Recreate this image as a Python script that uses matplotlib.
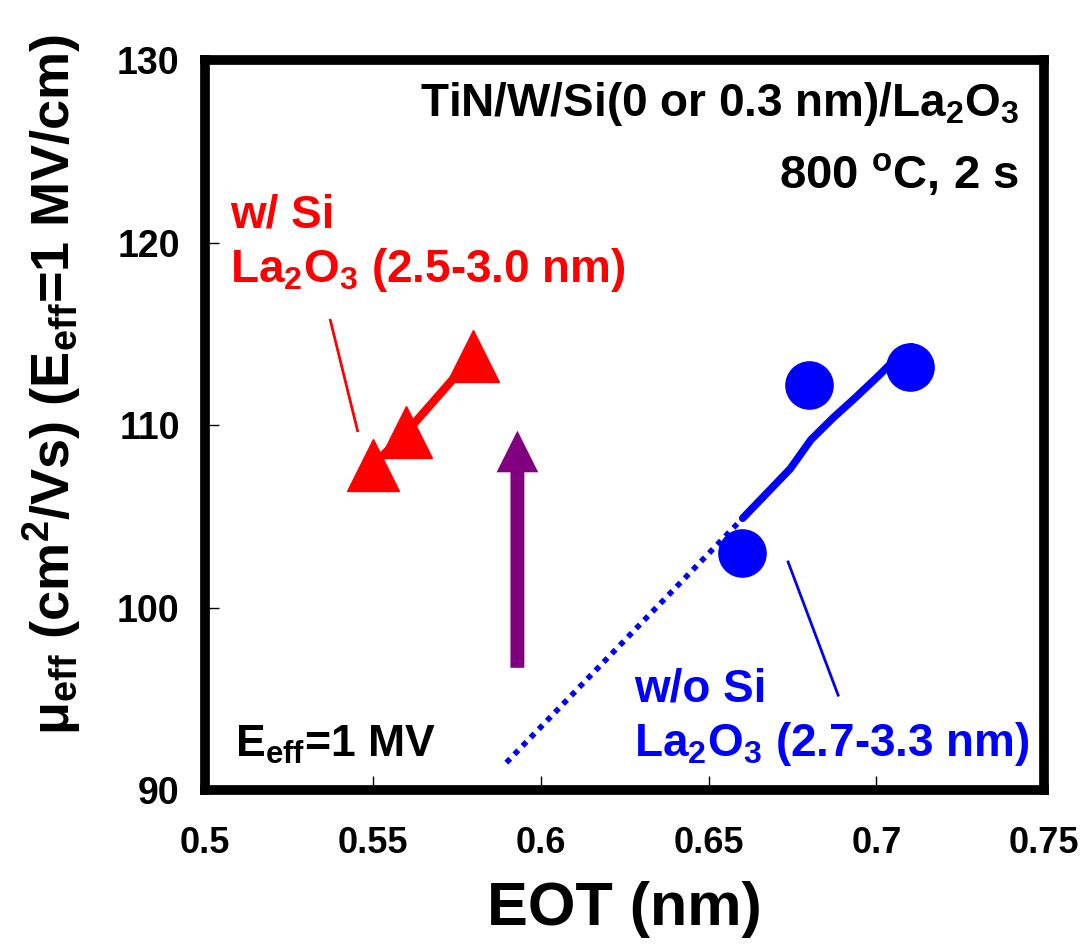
import matplotlib
matplotlib.use('Agg')
import matplotlib.pyplot as plt

# ---------------- data ----------------
eot_si = [0.55, 0.56, 0.58]
mu_si = [107.8, 109.6, 113.8]

eot_nosi = [0.66, 0.68, 0.71]
mu_nosi = [103.0, 112.2, 113.2]

# fitted trend for w/o Si (solid) and its extrapolation (dotted)
fit_x = [0.6602, 0.6662, 0.6743, 0.6805, 0.6871, 0.6937, 0.7006, 0.7066, 0.7105]
fit_y = [104.9, 106.05, 107.6, 109.2, 110.4, 111.5, 112.7, 113.8, 114.3]
extra_x = [0.5898, 0.6602]
extra_y = [91.5, 104.9]

arrow_x = 0.5931
arrow_y = [96.7, 109.7]

xticks = [0.5, 0.55, 0.6, 0.65, 0.7, 0.75]
xticklabels = ['0.5', '0.55', '0.6', '0.65', '0.7', '0.75']
yticks = [90, 100, 110, 120, 130]

# ---------------- style ----------------
plt.rcParams['font.family'] = ['Liberation Sans', 'DejaVu Sans']
plt.rcParams['font.weight'] = 'bold'
plt.rcParams['axes.labelweight'] = 'bold'
plt.rcParams['mathtext.fontset'] = 'custom'
plt.rcParams['mathtext.rm'] = 'Liberation Sans:bold'
plt.rcParams['mathtext.it'] = 'Liberation Sans:bold'
plt.rcParams['mathtext.bf'] = 'Liberation Sans:bold'
plt.rcParams['mathtext.default'] = 'rm'

fig = plt.figure(figsize=(10.89, 9.49), dpi=100)
ax = fig.add_axes([0.188, 0.1675, 0.771, 0.769])

ax.plot(eot_si, mu_si, color='red', lw=6, zorder=2)
ax.plot(eot_si, mu_si, linestyle='', marker='^', ms=37, color='red', zorder=3)

ax.plot(extra_x, extra_y, color='blue', lw=4, linestyle=(0, (1, 1.1)), zorder=2)
ax.plot(fit_x, fit_y, color='blue', lw=5.5, solid_capstyle='round', zorder=2)
ax.plot(eot_nosi, mu_nosi, linestyle='', marker='o', ms=34, color='blue', zorder=3)

ax.annotate('', xy=(arrow_x, arrow_y[1]), xytext=(arrow_x, arrow_y[0]),
            arrowprops=dict(arrowstyle='simple,head_length=3,head_width=3,tail_width=1',
                            mutation_scale=10, color='#800080', lw=0,
                            shrinkA=0, shrinkB=0))

# pointer lines
ax.plot([0.5374, 0.5455], [115.75, 109.7], color='red', lw=2)
ax.plot([0.6737, 0.6886], [102.5, 95.2], color='blue', lw=2)

# labels inside
ax.text(0.5075, 121.5, 'w/ Si', color='red', fontsize=33, va='center', ha='left')
ax.text(0.5075, 118.5, 'La$_2$O$_3$ (2.5-3.0 nm)', color='red', fontsize=33, va='center', ha='left')
ax.text(0.6278, 95.5, 'w/o Si', color='blue', fontsize=33, va='center', ha='left')
ax.text(0.6278, 92.5, 'La$_2$O$_3$ (2.7-3.3 nm)', color='blue', fontsize=33, va='center', ha='left')
ax.text(0.509, 92.5, 'E$_{eff}$=1 MV', color='black', fontsize=32, va='center', ha='left')
ax.text(0.7425, 127.6, 'TiN/W/Si(0 or 0.3 nm)/La$_2$O$_3$', fontsize=33, va='center', ha='right')
ax.text(0.7425, 123.7, '800 $^{o}$C, 2 s', fontsize=34, va='center', ha='right')

ax.set_xlim(0.5, 0.75)
ax.set_ylim(90, 130)
ax.set_xticks(xticks)
ax.set_xticklabels(xticklabels)
ax.set_yticks(yticks)
ax.tick_params(axis='x', labelsize=26, pad=26)
ax.tick_params(axis='y', labelsize=27, pad=18)
ax.tick_params(direction='in', length=10, width=1, top=False, right=False)

for s in ax.spines.values():
    s.set_linewidth(7)
    s.set_capstyle('projecting')

ax.set_xlabel('EOT (nm)', fontsize=44, labelpad=14)
ax.set_ylabel('$\\mu_{eff}$ (cm$^2$/Vs) (E$_{eff}$=1 MV/cm)', fontsize=39)
ax.yaxis.set_label_coords(-0.145, 0.555)

fig.savefig('out.png', dpi=100)
